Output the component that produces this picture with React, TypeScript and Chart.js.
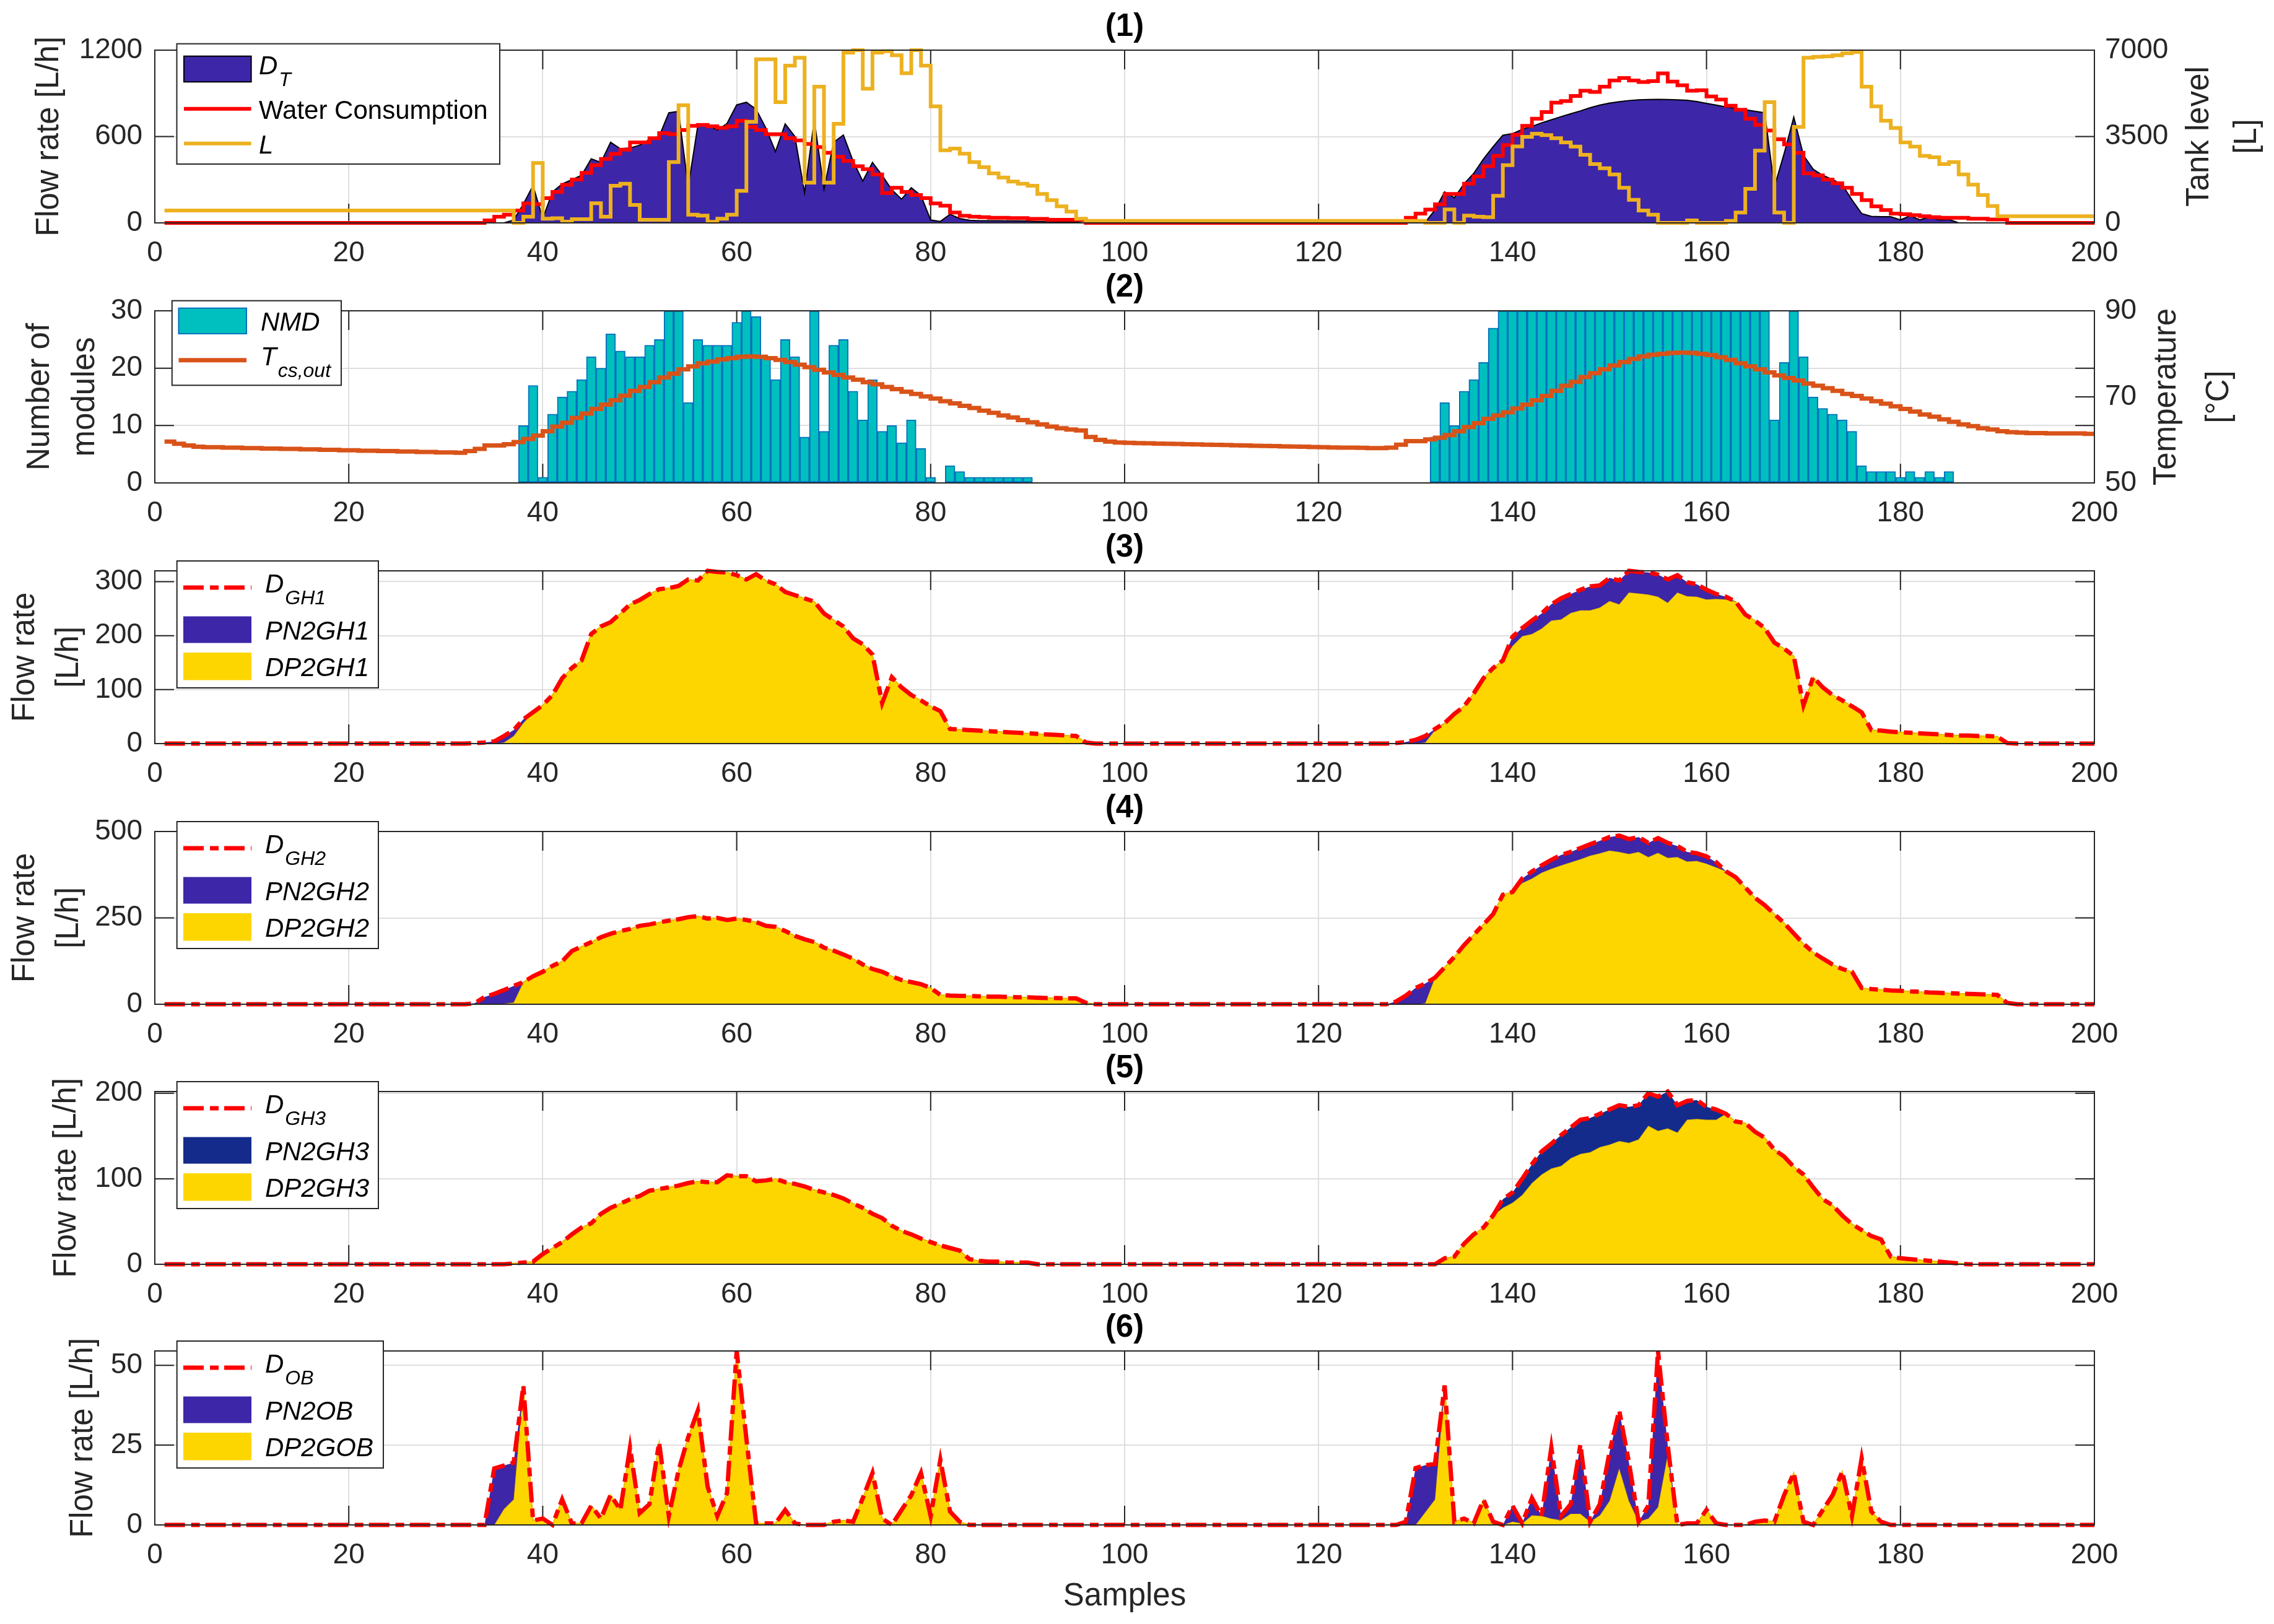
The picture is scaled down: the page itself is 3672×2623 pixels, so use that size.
import React, { useEffect, useRef } from 'react';
import { Chart, registerables } from 'chart.js';

Chart.register(...registerables);

// ---------------- layout constants ----------------
const FONT = '"Liberation Sans", Arial, Helvetica, sans-serif';
const AXIS_COLOR = '#262626';
const GRID_COLOR = '#DFDFDF';
const PAGE_W = 3672;
const PAGE_H = 2623;
const PLOT_LEFT = 250;
const PLOT_RIGHT = 3382;
const PLOT_TOPS = [81, 502, 922, 1343, 1763, 2182];
const PLOT_BOTTOMS = [360, 780, 1201, 1622, 2042, 2463];
const PAD_TOP = 75;
const CANVAS_BELOW = [110, 110, 110, 110, 110, 150];
const TICK_LEN = 31;
const DASH_DOT = [33, 10, 14, 9];

// ---------------- colours ----------------
const C_DT = '#3D26A8';
const C_RED = '#FF0000';
const C_L = '#EDB120';
const C_NMD = '#00BFBF';
const C_NMD_EDGE = '#0072BD';
const C_T = '#D95319';
const C_PN = '#3D26A8';
const C_PN3 = '#142B8C';
const C_DP = '#FDD600';
const C_DP_EDGE = '#E3BC00';

// ---------------- data ----------------
const SAMPLES = Array.from({ length: 200 }, (_, i) => i + 1);
const X_TICKS = [0, 20, 40, 60, 80, 100, 120, 140, 160, 180, 200];

const P1_Y_TICKS = [0, 600, 1200];
const P1_Y1_TICKS = [0, 3500, 7000];
const P2_Y_TICKS = [0, 10, 20, 30];
const P2_Y1_TICKS = [50, 70, 90];
const P3_Y_TICKS = [0, 100, 200, 300];
const P4_Y_TICKS = [0, 250, 500];
const P5_Y_TICKS = [0, 100, 200];
const P6_Y_TICKS = [0, 25, 50];

// (1) D_T [L/h]
const D_T = [
  0,0,0,0,0,0,0,0,0,0,0,0,0,0,0,0,0,0,0,0,
  0,0,0,0,0,0,0,0,0,0,0,0,0,0,0,0,20,130,260,30,
  215,270,300,330,445,420,560,515,520,540,580,600,765,775,250,680,680,645,690,820,
  838,790,660,495,688,600,210,715,235,560,610,430,290,420,330,230,165,245,190,20,
  10,60,30,18,15,15,15,14,14,13,10,10,9,8,5,0,0,0,0,0,
  0,0,0,0,0,0,0,0,0,0,0,0,0,0,0,0,0,0,0,0,
  0,0,0,0,0,0,0,0,0,0,5,90,215,175,272,344,444,530,609,620,
  650,670,695,716,738,758,778,800,818,832,842,850,855,857,858,857,855,852,843,830,
  818,805,796,786,775,765,250,480,734,470,373,330,301,265,160,65,45,43,43,21,
  50,21,43,21,25,0,0,0,0,0,0,0,0,0,0,0,0,0,0,0,
];
// (1) Water Consumption [L/h]
const WATER_CONSUMPTION = [
  0,0,0,0,0,0,0,0,0,0,0,0,0,0,0,0,0,0,0,0,
  0,0,0,0,0,0,0,0,0,0,0,0,0,17,43,57,86,135,130,172,
  215,265,301,347,401,444,480,509,559,559,588,624,616,645,674,681,671,660,671,710,
  667,645,616,616,588,573,548,527,487,459,430,394,373,337,208,244,215,194,172,136,
  119,72,50,43,40,36,36,33,33,28,28,22,22,22,22,0,0,0,0,0,
  0,0,0,0,0,0,0,0,0,0,0,0,0,0,0,0,0,0,0,0,
  0,0,0,0,0,0,0,0,36,65,93,129,201,201,272,323,394,466,541,612,
  674,724,770,836,846,882,918,910,946,989,1006,989,978,985,1039,982,956,918,922,878,
  857,814,786,724,681,642,581,545,487,344,330,301,275,244,201,158,115,89,65,60,
  54,46,40,36,36,36,29,29,24,24,0,0,0,0,0,0,0,0,0,0,
];
// (1) L, tank level [L]
const TANK_LEVEL = [
  500,500,500,500,500,500,500,500,500,500,500,500,500,500,500,500,500,500,500,500,
  500,500,500,500,500,500,500,500,500,500,500,500,500,500,500,500,0,251,2425,167,
  190,50,150,150,795,251,1505,1589,728,125,125,125,2467,4767,335,293,42,167,335,1300,
  4098,6632,6632,4892,6373,6690,1631,5520,1631,4014,6899,7000,5436,6899,6958,6791,6063,7000,6373,4725,
  2944,3011,2802,2467,2258,2007,1840,1673,1589,1505,1171,920,669,460,167,84,84,84,84,84,
  84,84,84,84,84,84,84,84,84,84,84,84,84,84,84,84,84,84,84,84,
  84,84,84,84,84,84,84,84,84,84,0,0,544,0,293,251,234,1100,2342,3100,
  3490,3613,3554,3429,3262,3094,2760,2383,2216,1965,1422,937,502,335,0,0,0,100,0,0,
  0,84,418,1380,2927,4892,418,0,3889,6690,6732,6749,6791,6874,6925,5520,4725,4140,3847,3262,
  3094,2718,2659,2383,2467,1965,1547,1129,686,268,268,268,268,268,268,268,268,268,268,268,
];
// (2) NMD, number of modules
const NMD = [
  0,0,0,0,0,0,0,0,0,0,0,0,0,0,0,0,0,0,0,0,
  0,0,0,0,0,0,0,0,0,0,0,0,0,0,0,0,0,10,17,1,
  12,15,16,18,22,20,26,23,22,22,24,25,30,30,14,25,24,24,24,28,
  30,29,22,18,25,22,8,30,9,24,25,16,11,18,9,10,7,11,6,1,
  0,3,2,1,1,1,1,1,1,1,0,0,0,0,0,0,0,0,0,0,
  0,0,0,0,0,0,0,0,0,0,0,0,0,0,0,0,0,0,0,0,
  0,0,0,0,0,0,0,0,0,0,0,8,14,10,16,18,21,27,30,30,
  30,30,30,30,30,30,30,30,30,30,30,30,30,30,30,30,30,30,30,30,
  30,30,30,30,30,30,11,21,30,22,15,13,12,11,9,3,2,2,2,1,
  2,1,2,1,2,0,0,0,0,0,0,0,0,0,0,0,0,0,0,0,
];
// (2) T_cs,out [degC]
const T_CS_OUT = [
  59.6,59.1,58.7,58.4,58.3,58.3,58.2,58.2,58.1,58.1,58.0,58.0,57.9,57.9,57.8,57.8,57.7,57.7,57.6,57.6,
  57.5,57.5,57.4,57.4,57.3,57.3,57.2,57.2,57.1,57.1,57.0,57.4,57.9,58.7,58.7,59.0,59.5,60.2,61.0,62.0,
  63.1,64.0,65.1,66.1,67.2,68.2,69.2,70.3,71.4,72.3,73.4,74.5,75.4,76.4,77.1,77.8,78.2,78.7,79.0,79.3,
  79.4,79.3,79.0,78.6,78.1,77.5,76.9,76.3,75.7,75.1,74.5,74.0,73.4,72.9,72.3,71.8,71.2,70.7,70.1,69.6,
  69.0,68.5,67.9,67.4,66.8,66.3,65.7,65.2,64.6,64.1,63.6,63.1,62.7,62.4,62.2,60.7,60.0,59.6,59.4,59.3,
  59.25,59.2,59.15,59.1,59.05,59.0,58.95,58.9,58.85,58.8,58.75,58.7,58.65,58.6,58.55,58.5,58.45,58.4,58.35,58.3,
  58.25,58.2,58.2,58.15,58.1,58.1,58.2,58.9,59.7,59.7,60.1,60.5,61.1,62.0,63.0,63.9,64.9,65.7,66.4,67.3,
  68.2,69.2,70.2,71.4,72.6,73.5,74.6,75.5,76.4,77.3,78.1,78.8,79.4,79.8,80.0,80.2,80.3,80.2,80.0,79.7,
  79.2,78.6,77.8,77.1,76.4,75.7,75.0,74.4,73.8,73.1,72.6,72.0,71.4,70.7,70.2,69.6,69.0,68.4,67.8,67.2,
  66.6,65.9,65.4,64.8,64.2,63.6,63.2,62.7,62.4,62.0,61.8,61.7,61.6,61.6,61.5,61.5,61.5,61.5,61.4,61.4,
];
// (3) D_GH1 and DP2GH1 [L/h]  (PN2GH1 = D_GH1 - DP2GH1)
const D_GH1 = [
  0,0,0,0,0,0,0,0,0,0,0,0,0,0,0,0,0,0,0,0,
  0,0,0,0,0,0,0,0,0,0,0,0,1,2,4,14,25,45,58,71,
  90,121,140,154,203,217,225,241,258,266,277,286,288,292,304,302,320,318,317,312,
  304,314,302,295,281,275,269,263,241,229,217,195,184,165,75,123,104,90,80,69,
  60,27,26,25,24,23,22,21,20,19,18,17,16,15,14,2,0,0,0,0,
  0,0,0,0,0,0,0,0,0,0,0,0,0,0,0,0,0,0,0,0,
  0,0,0,0,0,0,0,1,3,7,14,27,38,55,69,93,121,140,154,198,
  214,228,241,258,269,277,285,291,293,307,302,320,318,317,313,304,312,299,295,285,
  277,272,263,239,228,214,187,176,162,71,123,104,90,80,69,58,25,24,22,21,
  20,19,18,17,16,15,15,14,14,13,1,0,0,0,0,0,0,0,0,0,
];
const DP2GH1 = [
  0,0,0,0,0,0,0,0,0,0,0,0,0,0,0,0,0,0,0,0,
  0,0,0,0,0,0,0,0,0,0,0,0,0,0,0,2,14,38,58,71,
  90,121,140,154,203,217,225,241,258,266,277,286,288,292,304,302,320,318,317,312,
  304,314,302,295,281,275,269,263,241,229,217,195,184,165,75,123,104,90,80,69,
  60,27,26,25,24,23,22,21,20,19,18,17,16,15,14,2,0,0,0,0,
  0,0,0,0,0,0,0,0,0,0,0,0,0,0,0,0,0,0,0,0,
  0,0,0,0,0,0,0,0,0,0,2,25,38,55,69,93,121,140,154,181,
  199,203,213,228,230,242,247,247,252,264,258,280,278,276,272,261,280,273,272,267,
  268,267,263,239,228,214,187,176,162,71,123,104,90,80,69,58,25,24,22,21,
  20,19,18,17,16,15,15,14,14,13,1,0,0,0,0,0,0,0,0,0,
];
// (4) D_GH2 and DP2GH2 [L/h]
const D_GH2 = [
  0,0,0,0,0,0,0,0,0,0,0,0,0,0,0,0,0,0,0,0,
  0,0,0,0,0,0,0,0,0,0,0,0,3,21,30,41,53,64,81,94,
  111,124,154,167,180,194,204,212,218,227,231,237,242,246,252,255,248,250,244,248,
  244,238,227,224,212,198,188,180,164,155,144,132,115,102,94,81,70,64,58,47,
  27,25,24,24,23,22,22,21,20,20,19,18,18,17,17,4,0,0,0,0,
  0,0,0,0,0,0,0,0,0,0,0,0,0,0,0,0,0,0,0,0,
  0,0,0,0,0,0,0,8,25,47,60,77,107,137,171,201,231,261,317,325,
  364,384,402,418,432,441,452,463,473,484,488,478,484,467,481,467,458,441,437,428,
  411,385,368,338,308,287,261,235,205,175,150,132,115,102,94,47,44,42,40,39,
  37,36,34,33,32,31,30,29,28,27,4,0,0,0,0,0,0,0,0,0,
];
const DP2GH2 = [
  0,0,0,0,0,0,0,0,0,0,0,0,0,0,0,0,0,0,0,0,
  0,0,0,0,0,0,0,0,0,0,0,0,0,0,0,2,5,64,81,94,
  111,124,154,167,180,194,204,212,218,227,231,237,242,246,252,255,248,250,244,248,
  244,238,227,224,212,198,188,180,164,155,144,132,115,102,94,81,70,64,58,47,
  27,25,24,24,23,22,22,21,20,20,19,18,18,17,17,4,0,0,0,0,
  0,0,0,0,0,0,0,0,0,0,0,0,0,0,0,0,0,0,0,0,
  0,0,0,0,0,0,0,0,0,0,3,77,107,137,171,201,231,261,317,325,
  351,364,381,392,402,411,420,430,437,445,441,435,441,426,438,424,426,413,415,407,
  396,385,368,338,308,287,261,235,205,175,150,132,115,102,94,47,44,42,40,39,
  37,36,34,33,32,31,30,29,28,27,4,0,0,0,0,0,0,0,0,0,
];
// (5) D_GH3 and DP2GH3 [L/h]
const D_GH3 = [
  0,0,0,0,0,0,0,0,0,0,0,0,0,0,0,0,0,0,0,0,
  0,0,0,0,0,0,0,0,0,0,0,0,0,0,0,0,1,2,3,12,
  19,26,35,43,48,59,66,71,76,80,86,88,90,92,95,97,96,96,104,103,
  103,97,98,100,96,94,91,87,84,81,77,71,66,59,54,45,39,35,30,26,
  22,19,16,6,4,3,3,2,2,2,0,0,0,0,0,0,0,0,0,0,
  0,0,0,0,0,0,0,0,0,0,0,0,0,0,0,0,0,0,0,0,
  0,0,0,0,0,0,0,0,0,0,0,0,7,9,24,35,43,57,76,84,
  100,117,132,141,151,160,169,171,176,181,186,184,186,200,196,202,186,191,192,184,
  181,176,167,165,155,148,134,126,114,105,90,76,69,57,47,40,33,29,9,7,
  6,5,4,3,2,1,0,0,0,0,0,0,0,0,0,0,0,0,0,0,
];
const DP2GH3 = [
  0,0,0,0,0,0,0,0,0,0,0,0,0,0,0,0,0,0,0,0,
  0,0,0,0,0,0,0,0,0,0,0,0,0,0,0,0,1,2,3,12,
  19,26,35,43,48,59,66,71,76,80,86,88,90,92,95,97,96,96,104,103,
  103,97,98,100,96,94,91,87,84,81,77,71,66,59,54,45,39,35,30,26,
  22,19,16,6,4,3,3,2,2,2,0,0,0,0,0,0,0,0,0,0,
  0,0,0,0,0,0,0,0,0,0,0,0,0,0,0,0,0,0,0,0,
  0,0,0,0,0,0,0,0,0,0,0,0,7,9,24,35,43,57,66,72,
  81,95,105,112,115,124,129,131,137,140,144,142,146,162,156,159,154,169,170,169,
  169,176,167,165,155,148,134,126,114,105,90,76,69,57,47,40,33,29,9,7,
  6,5,4,3,2,1,0,0,0,0,0,0,0,0,0,0,0,0,0,0,
];
// (6) D_OB and DP2GOB [L/h]
const D_OB = [
  0,0,0,0,0,0,0,0,0,0,0,0,0,0,0,0,0,0,0,0,
  0,0,0,0,0,0,0,0,0,0,0,0,0,0,17.7,18.6,19.5,43.7,1.4,2,
  0,8,0.5,0.5,6,2,9.4,4.7,24.2,3.7,6.5,25.8,2.8,17,27.5,35.9,12,2.8,10,54.5,
  27,0.5,0.5,0.5,4.7,0.5,0,0,0,1,1.4,1,8.4,16.3,2,0,4.7,9.3,16.3,2.8,
  20.4,4.2,1,0,0,0,0,0,0,0,0,0,0,0,0,0,0,0,0,0,
  0,0,0,0,0,0,0,0,0,0,0,0,0,0,0,0,0,0,0,0,
  0,0,0,0,0,0,0,0,1,17.8,18.7,19.1,43.7,1,2,0.5,7.9,1,0,6,
  0.5,8.4,2.8,24.2,2.8,6.5,25.2,1,6.5,22.8,35.9,19.6,1,6,54.5,25,0,0.5,0.5,4.7,
  0.5,0,0,0,1,1.4,1,9.3,16.3,1,0,4.7,9.3,16.7,2.8,20.9,4.2,1,0,0,
  0,0,0,0,0,0,0,0,0,0,0,0,0,0,0,0,0,0,0,0,
];
const DP2GOB = [
  0,0,0,0,0,0,0,0,0,0,0,0,0,0,0,0,0,0,0,0,
  0,0,0,0,0,0,0,0,0,0,0,0,0,0,0,5,8,43.7,1.4,2,
  0,8,0.5,0.5,6,2,9.4,4.7,24.2,3.7,6.5,25.8,2.8,17,27.5,35.9,12,2.8,10,54.5,
  27,0.5,0.5,0.5,4.7,0.5,0,0,0,1,1.4,1,8.4,16.3,2,0,4.7,9.3,16.3,2.8,
  20.4,4.2,1,0,0,0,0,0,0,0,0,0,0,0,0,0,0,0,0,0,
  0,0,0,0,0,0,0,0,0,0,0,0,0,0,0,0,0,0,0,0,
  0,0,0,0,0,0,0,0,0,0,4,8,43.7,1,2,0.5,7.9,1,0,1,
  0.5,3,2.8,2,1.5,3.5,3.5,1,3,7.5,17.7,7.5,1,2,5.6,22,0,0.5,0.5,4.7,
  0.5,0,0,0,1,1.4,1,9.3,16.3,1,0,4.7,9.3,16.7,2.8,20.9,4.2,1,0,0,
  0,0,0,0,0,0,0,0,0,0,0,0,0,0,0,0,0,0,0,0,
];

// ---------------- helpers ----------------
const pts = (vals: number[]) => vals.map((v, i) => ({ x: SAMPLES[i], y: v }));
const plotH = (i: number) => PLOT_BOTTOMS[i] - PLOT_TOPS[i];
const canvasH = (i: number) => PAD_TOP + plotH(i) + CANVAS_BELOW[i];
const TICK_FONT = { family: FONT, size: 46 };

function drawLegendText(ctx: any, x: number, cy: number, it: any) {
  const st = it.italic ? 'italic ' : '';
  ctx.fillStyle = '#000000';
  ctx.textAlign = 'left';
  ctx.textBaseline = 'alphabetic';
  ctx.font = `${st}42px ${FONT}`;
  if (it.sub) {
    ctx.fillText(it.text, x, cy + 8);
    const w = ctx.measureText(it.text).width;
    ctx.font = `${st}32px ${FONT}`;
    ctx.fillText(it.sub, x + w + 2, cy + 27);
  } else {
    ctx.fillText(it.text, x, cy + 16);
  }
}

function makeDecor(cfg: any) {
  return {
    id: 'matlabDecor',
    beforeDatasetsDraw(chart: any) {
      const { ctx, chartArea: a, scales } = chart;
      ctx.save();
      ctx.strokeStyle = AXIS_COLOR;
      ctx.lineWidth = 2;
      ctx.beginPath();
      for (const v of X_TICKS) {
        const px = scales.x.getPixelForValue(v);
        ctx.moveTo(px, a.bottom);
        ctx.lineTo(px, a.bottom - TICK_LEN);
        ctx.moveTo(px, a.top);
        ctx.lineTo(px, a.top + TICK_LEN);
      }
      for (const v of cfg.yTicks) {
        const py = scales.y.getPixelForValue(v);
        ctx.moveTo(a.left, py);
        ctx.lineTo(a.left + TICK_LEN, py);
        ctx.moveTo(a.right, py);
        ctx.lineTo(a.right - TICK_LEN, py);
      }
      if (cfg.y1Ticks) {
        for (const v of cfg.y1Ticks) {
          const py = scales.y1.getPixelForValue(v);
          ctx.moveTo(a.right, py);
          ctx.lineTo(a.right - TICK_LEN, py);
        }
      }
      ctx.stroke();
      ctx.restore();
    },
    afterDraw(chart: any) {
      const { ctx, chartArea: a } = chart;
      ctx.save();
      // axes box
      ctx.strokeStyle = AXIS_COLOR;
      ctx.lineWidth = 2;
      ctx.strokeRect(a.left, a.top, a.right - a.left, a.bottom - a.top);

      // legend
      const L = cfg.legend;
      const top = a.top;
      ctx.fillStyle = '#ffffff';
      ctx.fillRect(L.x0, top + L.y0, L.x1 - L.x0, L.y1 - L.y0);
      ctx.strokeStyle = AXIS_COLOR;
      ctx.lineWidth = 2;
      ctx.strokeRect(L.x0, top + L.y0, L.x1 - L.x0, L.y1 - L.y0);
      for (const it of L.items) {
        let cy = 0;
        if (it.kind === 'patch') {
          const y0 = top + it.y0;
          const y1 = top + it.y1;
          ctx.fillStyle = it.color;
          ctx.fillRect(L.sx0, y0, L.sx1 - L.sx0, y1 - y0);
          if (it.edge) {
            ctx.strokeStyle = it.edge;
            ctx.lineWidth = 2;
            ctx.strokeRect(L.sx0, y0, L.sx1 - L.sx0, y1 - y0);
          }
          cy = (y0 + y1) / 2;
        } else {
          cy = top + it.y0;
          ctx.strokeStyle = it.color;
          ctx.lineWidth = it.width || 6;
          ctx.setLineDash(it.kind === 'dashdot' ? DASH_DOT : []);
          ctx.beginPath();
          ctx.moveTo(L.sx0, cy);
          ctx.lineTo(L.sx1, cy);
          ctx.stroke();
          ctx.setLineDash([]);
        }
        drawLegendText(ctx, L.tx, cy, it);
      }

      // title
      ctx.fillStyle = '#000000';
      ctx.font = `bold 51px ${FONT}`;
      ctx.textAlign = 'center';
      ctx.textBaseline = 'middle';
      ctx.fillText(cfg.title, (a.left + a.right) / 2, a.top - 37);

      // axis labels (rotated, reading upward)
      ctx.fillStyle = AXIS_COLOR;
      ctx.font = `51px ${FONT}`;
      const midY = (a.top + a.bottom) / 2;
      const labels = [...cfg.left, ...(cfg.right || [])];
      for (const t of labels) {
        ctx.save();
        ctx.translate(t.x, midY);
        ctx.rotate(-Math.PI / 2);
        ctx.textAlign = 'center';
        ctx.textBaseline = 'middle';
        ctx.fillText(t.text, 0, 0);
        ctx.restore();
      }
      if (cfg.xLabel) {
        ctx.textAlign = 'center';
        ctx.textBaseline = 'middle';
        ctx.fillText(cfg.xLabel, (a.left + a.right) / 2, a.bottom + 116);
      }
      ctx.restore();
    },
  };
}

function xScale(i: number) {
  const h = CANVAS_BELOW[i];
  return {
    type: 'linear',
    min: 0,
    max: 200,
    offset: false,
    afterBuildTicks: (s: any) => { s.ticks = X_TICKS.map((v) => ({ value: v })); },
    grid: { color: GRID_COLOR, lineWidth: 2, drawTicks: false, offset: false },
    border: { display: false },
    ticks: { font: TICK_FONT, color: AXIS_COLOR, padding: 22, maxRotation: 0, minRotation: 0, autoSkip: false, callback: (v: any) => String(v) },
    afterFit: (s: any) => { s.height = h; },
  };
}

function yScale(min: number, max: number, ticks: number[]) {
  return {
    type: 'linear',
    position: 'left',
    min,
    max,
    afterBuildTicks: (s: any) => { s.ticks = ticks.map((v) => ({ value: v })); },
    grid: { color: GRID_COLOR, lineWidth: 2, drawTicks: false },
    border: { display: false },
    ticks: { font: TICK_FONT, color: AXIS_COLOR, padding: 20, callback: (v: any) => String(v) },
    afterFit: (s: any) => { s.width = PLOT_LEFT; },
  };
}

function y1Scale(min: number, max: number, ticks: number[]) {
  return {
    type: 'linear',
    position: 'right',
    min,
    max,
    afterBuildTicks: (s: any) => { s.ticks = ticks.map((v) => ({ value: v })); },
    grid: { display: false, drawTicks: false },
    border: { display: false },
    ticks: { font: TICK_FONT, color: AXIS_COLOR, padding: 17, callback: (v: any) => String(v) },
    afterFit: (s: any) => { s.width = PAGE_W - PLOT_RIGHT; },
  };
}

function baseOptions(scales: any, hasRight: boolean) {
  return {
    animation: false,
    responsive: false,
    maintainAspectRatio: false,
    devicePixelRatio: 1,
    events: [],
    layout: { padding: { top: PAD_TOP, left: 0, bottom: 0, right: hasRight ? 0 : PAGE_W - PLOT_RIGHT } },
    plugins: { legend: { display: false }, tooltip: { enabled: false }, title: { display: false } },
    scales,
  };
}

function stackedLegend(d: string, pn: string, dp: string, pnColor: string, x1: number) {
  return {
    x0: 285.7, x1, y0: -16, y1: 189, sx0: 296, sx1: 406, tx: 428,
    items: [
      { kind: 'dashdot', y0: 27, color: C_RED, width: 7, text: 'D', sub: d, italic: true },
      { kind: 'patch', y0: 73.5, y1: 116.5, color: pnColor, text: pn, italic: true },
      { kind: 'patch', y0: 132, y1: 176.5, color: C_DP, text: dp, italic: true },
    ],
  };
}

function stackedPanel(i: number, D: number[], DP: number[], pnColor: string, max: number, ticks: number[], decor: any) {
  return () => ({
    type: 'line',
    data: {
      datasets: [
        { label: 'D', data: pts(D), borderColor: C_RED, borderWidth: 7, borderDash: DASH_DOT, pointRadius: 0, tension: 0, fill: { target: 1 }, backgroundColor: pnColor, clip: 12 },
        { label: 'DP', data: pts(DP), borderColor: C_DP_EDGE, borderWidth: 2, pointRadius: 0, tension: 0, fill: 'origin', backgroundColor: C_DP, clip: 12 },
      ],
    },
    options: baseOptions({ x: xScale(i), y: yScale(0, max, ticks) }, false),
    plugins: [makeDecor(decor)],
  });
}

// ---------------- panels ----------------
const PANELS: (() => any)[] = [
  () => ({
    type: 'line',
    data: {
      datasets: [
        { label: 'L', yAxisID: 'y1', data: pts(TANK_LEVEL), stepped: true, borderColor: C_L, borderWidth: 6, pointRadius: 0, fill: false, clip: 12 },
        { label: 'Water Consumption', yAxisID: 'y', data: pts(WATER_CONSUMPTION), stepped: true, borderColor: C_RED, borderWidth: 6, pointRadius: 0, fill: false, clip: 12 },
        { label: 'D_T', yAxisID: 'y', data: pts(D_T), borderColor: '#000000', borderWidth: 2, pointRadius: 0, tension: 0, fill: 'origin', backgroundColor: C_DT },
      ],
    },
    options: baseOptions({ x: xScale(0), y: yScale(0, 1200, P1_Y_TICKS), y1: y1Scale(0, 7000, P1_Y1_TICKS) }, true),
    plugins: [makeDecor({
      title: '(1)',
      yTicks: P1_Y_TICKS,
      y1Ticks: P1_Y1_TICKS,
      left: [{ text: 'Flow rate [L/h]', x: 80 }],
      right: [{ text: 'Tank level', x: 3552 }, { text: '[L]', x: 3629 }],
      legend: {
        x0: 285.5, x1: 807, y0: -10.3, y1: 184, sx0: 297, sx1: 405.6, tx: 418,
        items: [
          { kind: 'patch', y0: 9.7, y1: 51.3, color: C_DT, edge: '#000000', text: 'D', sub: 'T', italic: true },
          { kind: 'line', y0: 94.7, color: C_RED, width: 6, text: 'Water Consumption', italic: false },
          { kind: 'line', y0: 150.7, color: C_L, width: 6, text: 'L', italic: true },
        ],
      },
    })],
  }),
  () => ({
    type: 'bar',
    data: {
      datasets: [
        { type: 'line', label: 'T_cs,out', yAxisID: 'y1', data: pts(T_CS_OUT), stepped: true, borderColor: C_T, borderWidth: 7, pointRadius: 0, fill: false, clip: 12 },
        { type: 'bar', label: 'NMD', yAxisID: 'y', data: pts(NMD), backgroundColor: C_NMD, borderColor: C_NMD_EDGE, borderWidth: 2, borderSkipped: false, barPercentage: 1, categoryPercentage: 1 },
      ],
    },
    options: baseOptions({ x: xScale(1), y: yScale(0, 30, P2_Y_TICKS), y1: y1Scale(50, 90, P2_Y1_TICKS) }, true),
    plugins: [makeDecor({
      title: '(2)',
      yTicks: P2_Y_TICKS,
      y1Ticks: P2_Y1_TICKS,
      left: [{ text: 'Number of', x: 65 }, { text: 'modules', x: 138 }],
      right: [{ text: 'Temperature', x: 3499 }, { text: '[°C]', x: 3584 }],
      legend: {
        x0: 277.8, x1: 551, y0: -16.3, y1: 120.3, sx0: 288.5, sx1: 398, tx: 421,
        items: [
          { kind: 'patch', y0: -4.3, y1: 37, color: C_NMD, edge: C_NMD_EDGE, text: 'NMD', italic: true },
          { kind: 'line', y0: 79.7, color: C_T, width: 7, text: 'T', sub: 'cs,out', italic: true },
        ],
      },
    })],
  }),
  stackedPanel(2, D_GH1, DP2GH1, C_PN, 320, P3_Y_TICKS, {
    title: '(3)', yTicks: P3_Y_TICKS,
    left: [{ text: 'Flow rate', x: 41 }, { text: '[L/h]', x: 112 }],
    legend: stackedLegend('GH1', 'PN2GH1', 'DP2GH1', C_PN, 611),
  }),
  stackedPanel(3, D_GH2, DP2GH2, C_PN, 500, P4_Y_TICKS, {
    title: '(4)', yTicks: P4_Y_TICKS,
    left: [{ text: 'Flow rate', x: 41 }, { text: '[L/h]', x: 112 }],
    legend: stackedLegend('GH2', 'PN2GH2', 'DP2GH2', C_PN, 611),
  }),
  stackedPanel(4, D_GH3, DP2GH3, C_PN3, 202, P5_Y_TICKS, {
    title: '(5)', yTicks: P5_Y_TICKS,
    left: [{ text: 'Flow rate [L/h]', x: 108 }],
    legend: stackedLegend('GH3', 'PN2GH3', 'DP2GH3', C_PN3, 611),
  }),
  stackedPanel(5, D_OB, DP2GOB, C_PN, 54.5, P6_Y_TICKS, {
    title: '(6)', yTicks: P6_Y_TICKS,
    left: [{ text: 'Flow rate [L/h]', x: 135 }],
    xLabel: 'Samples',
    legend: stackedLegend('OB', 'PN2OB', 'DP2GOB', C_PN, 619),
  }),
];

function PanelCanvas({ index, build }: { index: number; build: () => any }) {
  const ref = useRef<HTMLCanvasElement | null>(null);
  const h = canvasH(index);
  useEffect(() => {
    if (!ref.current) return undefined;
    const chart = new Chart(ref.current, build());
    return () => chart.destroy();
  }, [build]);
  return (
    <canvas
      ref={ref}
      width={PAGE_W}
      height={h}
      style={{ position: 'absolute', left: 0, top: PLOT_TOPS[index] - PAD_TOP, width: PAGE_W, height: h, display: 'block' }}
    />
  );
}

export default function App() {
  return (
    <div style={{ position: 'absolute', left: 0, top: 0, width: PAGE_W, height: PAGE_H, background: '#ffffff', overflow: 'hidden' }}>
      {PANELS.map((b, i) => (
        <PanelCanvas key={i} index={i} build={b} />
      ))}
    </div>
  );
}
